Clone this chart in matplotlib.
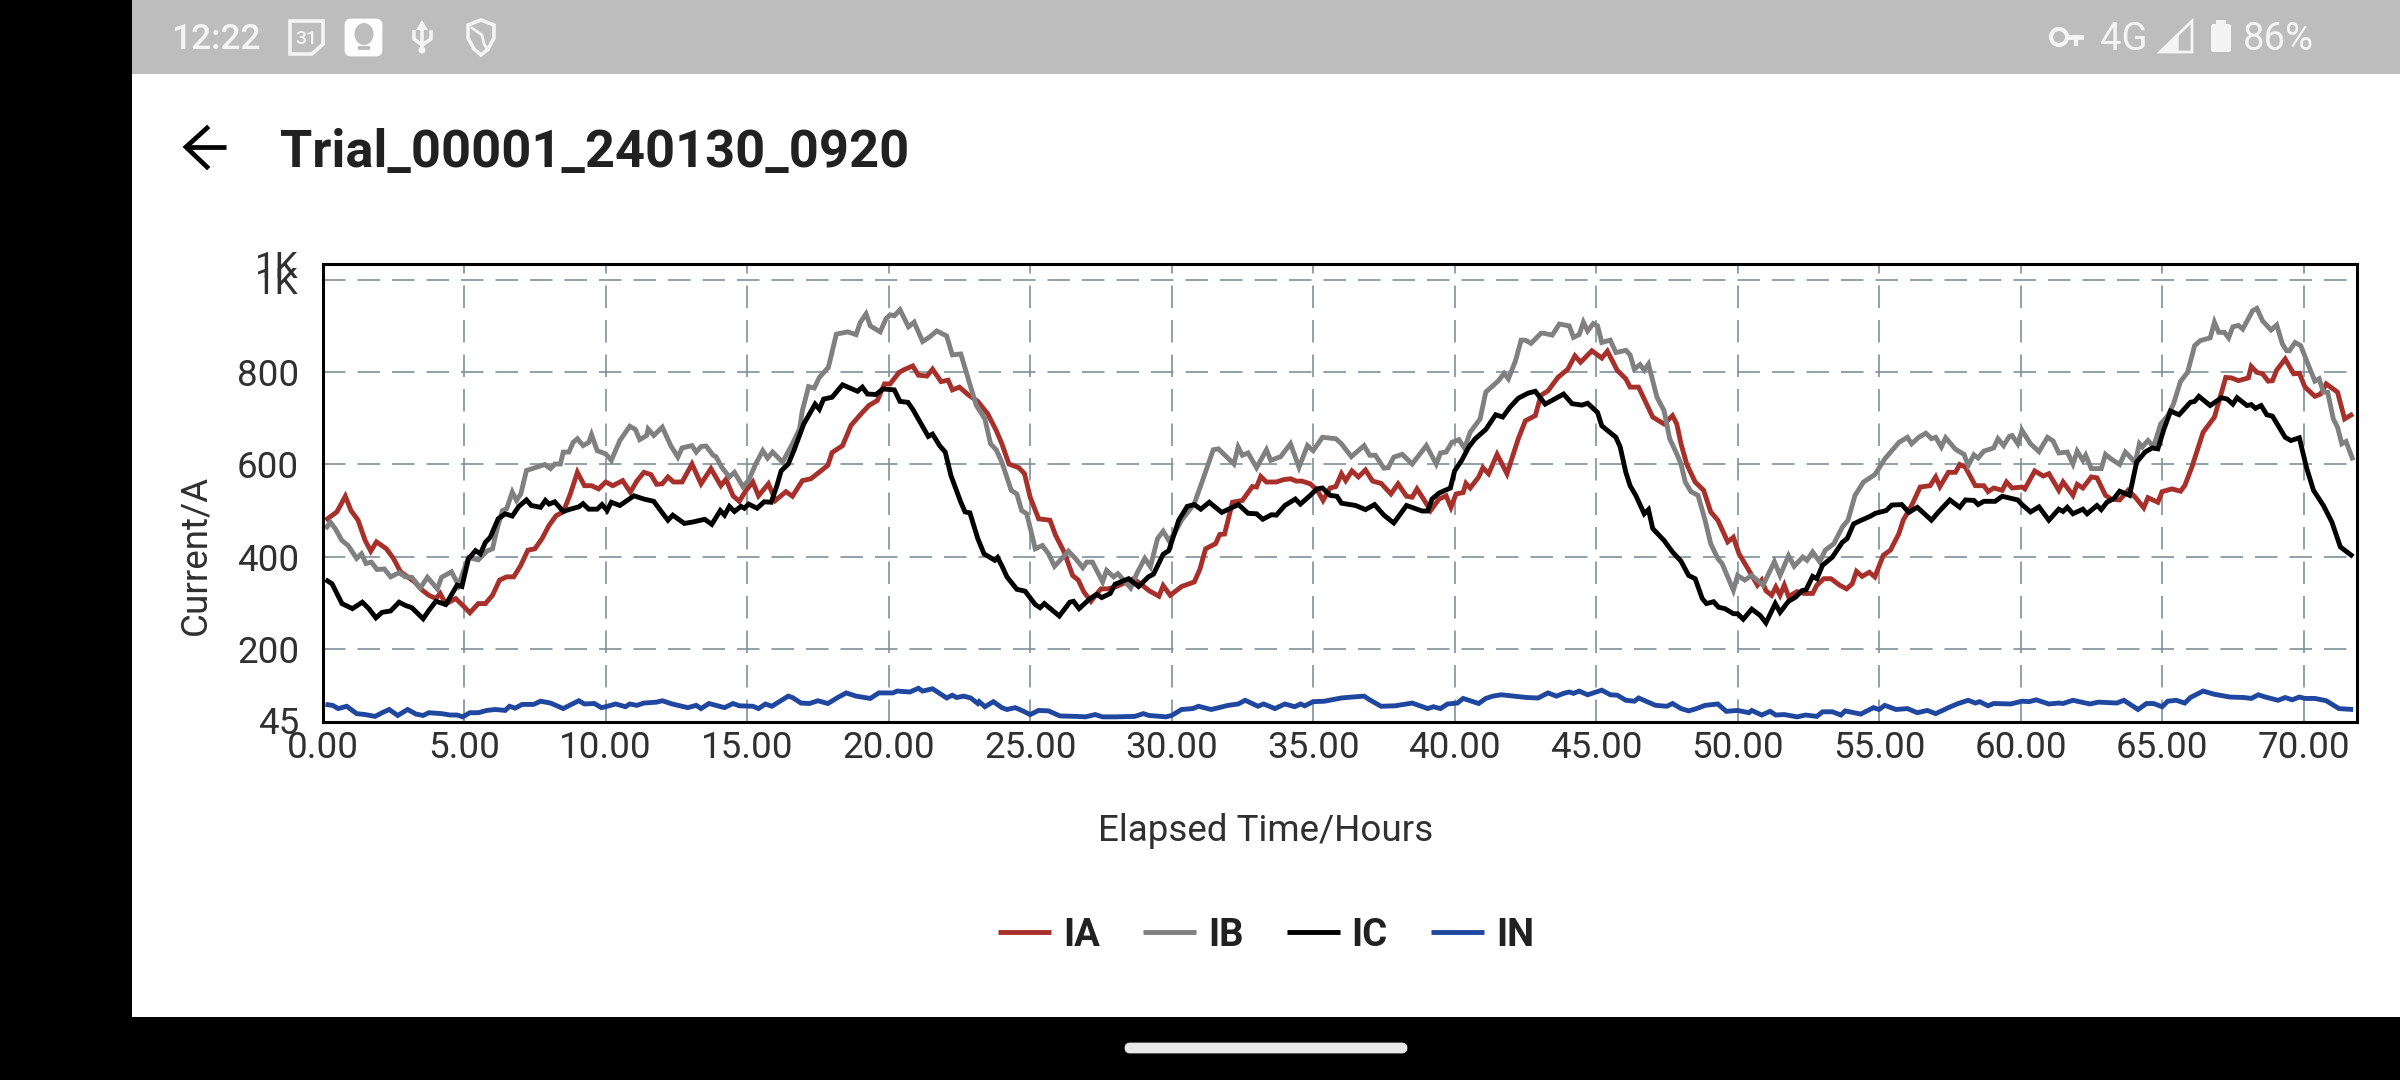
import matplotlib
matplotlib.use("Agg")
import matplotlib.pyplot as plt
from matplotlib.patches import Rectangle, Polygon, FancyBboxPatch, Circle, Ellipse

plt.rcParams['font.family'] = ['Roboto', 'DejaVu Sans']

TITLE = "Trial_00001_240130_0920"
X_LABEL = "Elapsed Time/Hours"
Y_LABEL = "Current/A"
SERIES_NAMES = ["IA", "IB", "IC", "IN"]
X_TICKS = [0, 5, 10, 15, 20, 25, 30, 35, 40, 45, 50, 55, 60, 65, 70]
Y_TICKS = [200, 400, 600, 800, 1000]
Y_EXTRA_TICKS = [45, 1034.7]
Y_TICK_LABELS = ["200", "400", "600", "800", "1K"]
Y_EXTRA_LABELS = ["45", "1K"]

IA_H = [0.1,0.5,0.8,1.0,1.25,1.5,1.7,1.9,2.25,2.5,2.75,3.0,3.25,3.5,3.75,4.0,4.15,4.35,4.7,5.0,5.2,5.5,5.75,6.0,6.25,6.5,6.75,7.0,7.25,7.5,7.75,8.0,8.25,8.5,8.75,9.0,9.25,9.5,9.75,10.0,10.25,10.6,10.87,11.1,11.35,11.6,11.8,12.0,
12.2,12.4,12.7,13.05,13.37,13.72,14.07,14.25,14.5,14.72,14.95,15.2,15.4,15.75,16.0,16.37,16.6,16.95,17.25,17.5,17.85,18.0,18.37,18.67,19.07,19.3,19.6,19.85,20.05,20.37,20.55,20.85,21.05,21.35,21.55,21.85,22.1,22.25,22.5,22.8,23.15,23.5,23.8,
24.0,24.25,24.6,24.8,25.0,25.3,25.7,25.9,26.2,26.5,26.7,26.9,27.15,27.5,27.75,28.05,28.65,28.9,29.2,29.55,29.7,29.95,30.35,30.8,31.0,31.2,31.55,31.7,31.87,32.15,32.5,32.85,33.0,33.15,33.35,33.7,33.95,34.2,34.4,34.6,34.9,35.15,35.35,35.6,35.8,
36.0,36.15,36.37,36.6,36.85,37.1,37.4,37.75,38.0,38.3,38.5,38.67,38.9,39.15,39.45,39.7,39.87,40.05,40.3,40.4,40.55,40.85,41.0,41.2,41.5,41.85,42.25,42.5,42.85,43.05,43.3,43.65,44.0,44.25,44.45,44.85,45.2,45.4,45.75,46.05,46.2,46.5,47.0,47.4,47.7,47.85,
48.0,48.2,48.5,48.8,49.05,49.3,49.65,49.85,50.05,50.4,50.7,50.85,51.0,51.2,51.35,51.5,51.65,51.8,52.1,52.35,52.65,52.8,53.05,53.3,53.6,53.85,54.05,54.2,54.4,54.65,54.85,55.15,55.4,55.7,55.85,56.15,56.45,56.8,57.0,57.15,57.45,57.7,57.85,58.05,58.4,58.7,58.85,59.05,59.35,59.5,59.7,
60.05,60.15,60.5,60.8,61.0,61.35,61.5,61.85,62.0,62.2,62.5,62.7,63.0,63.2,63.5,63.8,64.05,64.35,64.5,64.85,65.0,65.35,65.65,65.8,66.05,66.45,66.85,67.25,67.45,67.7,68.05,68.15,68.35,68.55,68.75,68.9,69.05,69.35,69.65,69.85,70.05,70.4,70.6,70.8,71.2,71.45,71.75]
IA_V = [479,497,531,500,479,435,412,432,417,396,367,356,345,328,316,309,320,297,309,291,278,298,298,316,349,356,356,381,414,417,439,468,489,497,536,583,554,554,547,562,554,565,540,564,583,578,557,558,
573,562,562,601,558,591,554,568,532,520,543,562,532,558,522,541,531,565,569,581,598,626,641,685,713,728,739,775,775,800,806,814,794,792,807,780,783,762,768,752,737,710,674,
645,601,593,580,529,482,479,446,410,359,349,323,303,330,330,335,352,341,326,314,337,316,335,345,373,417,428,448,449,518,522,552,551,574,562,562,567,569,564,564,558,544,522,549,552,
580,565,586,573,588,564,559,536,558,531,529,547,525,500,525,532,507,536,539,559,549,573,593,580,622,580,656,695,706,750,760,789,807,836,822,847,831,846,804,786,768,768,703,688,706,688,
645,601,562,544,497,479,432,442,406,370,338,349,326,316,334,316,338,313,324,320,320,338,352,352,338,330,341,368,357,366,356,403,414,450,479,511,551,554,573,552,583,583,600,594,554,554,541,549,544,562,549,
551,547,586,575,580,544,562,533,557,549,573,571,533,525,523,544,529,506,528,518,541,547,542,554,594,670,703,789,788,782,788,813,800,797,781,782,805,829,797,798,768,748,753,775,757,699,710]

IB_H = [0.1,0.27,0.45,0.68,0.9,1.2,1.37,1.53,1.72,1.92,2.18,2.4,2.7,2.92,3.15,3.45,3.7,4.05,4.2,4.55,4.8,5.0,5.15,5.5,5.8,6.0,6.15,6.35,6.5,6.7,6.85,7.0,7.2,7.5,7.85,8.05,8.2,8.4,8.5,8.7,8.85,9.0,9.2,9.4,9.5,9.7,10.0,10.2,10.5,10.85,11.05,11.2,11.45,11.5,11.7,12.0,
12.3,12.55,12.7,13.05,13.2,13.37,13.55,13.8,13.9,14.1,14.37,14.55,14.85,15.05,15.3,15.55,15.72,15.9,16.25,16.6,16.85,16.95,17.17,17.37,17.55,17.87,18.15,18.55,18.85,19.0,19.2,19.35,19.7,19.9,20.05,20.2,20.4,20.7,20.9,21.2,21.45,21.7,22.05,22.25,22.55,22.9,23.1,23.4,23.6,23.8,
24.0,24.33,24.53,24.7,24.88,25.18,25.43,25.65,25.86,26.06,26.35,26.6,26.86,27.0,27.2,27.56,27.7,27.95,28.1,28.55,28.8,29.05,29.25,29.5,29.7,29.9,30.1,30.35,30.8,31.05,31.47,31.65,32.2,32.35,32.5,32.7,33.0,33.35,33.5,33.85,34.2,34.5,34.8,35.0,35.33,35.8,
36.0,36.35,36.8,37.0,37.2,37.5,37.65,37.85,38.15,38.5,39.0,39.35,39.5,39.7,39.9,40.15,40.35,40.55,40.9,41.1,41.55,41.75,41.9,42.15,42.35,42.5,42.7,43.05,43.15,43.45,43.7,44.05,44.2,44.4,44.55,44.7,44.9,45.05,45.2,45.5,45.7,46.05,46.2,46.35,46.55,46.7,46.85,47.15,47.4,47.6,47.85,
48.0,48.15,48.35,48.6,48.85,49.05,49.3,49.45,49.85,50.0,50.25,50.5,50.9,51.3,51.5,51.8,52.0,52.3,52.45,52.65,52.9,53.1,53.4,53.7,53.9,54.15,54.45,54.85,55.2,55.7,56.0,56.15,56.4,56.65,56.85,57.0,57.2,57.35,57.7,58.0,58.15,58.35,58.5,58.7,59.05,59.2,59.4,59.6,59.7,59.9,
60.05,60.35,60.65,60.95,61.15,61.35,61.65,61.85,62.0,62.2,62.3,62.5,62.85,63.0,63.2,63.5,63.7,64.05,64.2,64.3,64.5,64.7,64.95,65.2,65.4,65.65,65.9,66.15,66.35,66.7,66.85,67.0,67.2,67.35,67.5,67.7,67.85,68.2,68.35,68.55,68.85,69.05,69.25,69.4,69.5,69.7,69.9,70.2,70.4,70.55,70.7,70.85,71.05,71.2,71.35,71.5,71.75]
IB_V = [460,475,460,435,424,396,406,385,388,372,373,356,365,356,355,332,355,330,355,367,338,373,398,393,412,417,457,500,504,540,522,536,587,593,600,591,601,601,627,627,648,656,641,648,665,630,623,609,652,683,676,654,663,677,663,681,
641,616,636,641,627,639,640,620,617,594,573,583,552,565,601,630,614,627,605,645,677,717,769,766,789,811,883,888,882,909,927,901,888,916,925,923,936,899,909,867,877,890,879,838,840,768,728,699,645,632,
605,544,536,500,493,417,424,406,379,392,412,396,376,388,388,345,370,356,363,332,367,396,378,439,455,435,450,479,515,558,632,634,601,638,620,625,593,632,609,617,645,594,641,630,659,656,
645,617,641,620,620,592,593,616,622,601,641,601,625,627,648,654,635,670,699,757,782,798,786,825,870,870,863,885,885,881,905,901,876,882,909,890,906,901,865,870,843,848,838,807,817,805,818,746,717,656,623,
601,562,541,533,479,428,396,385,327,359,349,359,338,389,359,402,379,399,392,410,389,414,428,464,479,533,562,578,612,648,659,645,659,668,656,659,638,658,633,622,598,621,614,629,636,656,641,661,663,645,
674,645,628,659,651,625,627,601,629,609,620,591,591,622,612,600,627,605,645,638,652,639,688,706,731,780,800,858,869,875,909,887,887,875,899,902,894,934,939,912,892,903,862,847,847,865,858,811,781,786,757,757,699,681,645,650,609]

IC_H = [0.1,0.33,0.68,1.05,1.4,1.63,1.88,2.1,2.4,2.7,2.92,3.15,3.55,3.75,4.0,4.35,4.75,4.92,5.15,5.4,5.57,5.75,5.92,6.2,6.45,6.7,6.93,7.2,7.37,7.7,7.87,8.0,8.2,8.5,8.75,9.05,9.2,9.4,9.7,9.87,10.05,10.2,10.5,11.0,11.35,11.7,12.0,
12.2,12.37,12.78,13.07,13.5,13.75,14.05,14.2,14.37,14.55,14.78,14.9,15.05,15.35,15.6,15.85,16.05,16.2,16.45,16.65,17.0,17.4,17.55,17.7,18.0,18.37,18.9,19.07,19.25,19.55,19.8,20.2,20.4,20.68,20.85,21.15,21.4,21.55,21.8,22.0,22.2,22.55,22.7,22.87,23.15,23.37,23.75,23.85,
24.0,24.18,24.53,24.82,25.18,25.35,25.5,26.03,26.4,26.53,26.73,27.12,27.35,27.53,27.83,28.0,28.48,28.83,29.18,29.36,29.7,29.9,30.25,30.55,30.8,31.03,31.33,31.77,32.36,32.7,33.0,33.22,33.53,33.7,34.0,34.37,34.55,34.9,35.13,35.33,35.6,35.84,
36.0,36.5,36.85,37.17,37.5,37.85,38.3,38.85,39.05,39.2,39.45,39.85,40.0,40.25,40.5,40.73,41.1,41.45,41.7,41.95,42.25,42.6,42.85,43.2,43.85,44.15,44.5,44.7,45.05,45.2,45.7,45.85,46.05,46.2,46.4,46.7,46.85,47.0,47.4,47.7,
48.0,48.27,48.5,48.75,48.9,49.15,49.33,49.55,49.85,50.0,50.2,50.5,50.8,51.0,51.33,51.5,51.8,52.05,52.27,52.42,52.65,52.8,53.0,53.35,53.7,53.87,54.1,54.3,54.7,54.87,55.25,55.45,55.8,56.05,56.35,56.85,57.1,57.5,57.85,58.05,58.35,58.5,58.7,59.1,59.35,59.7,59.9,
60.05,60.35,60.65,61.0,61.35,61.5,61.65,61.85,62.2,62.35,62.7,62.85,63.05,63.3,63.5,63.85,64.1,64.4,64.65,64.85,65.05,65.3,65.6,66.0,66.15,66.3,66.7,67.1,67.3,67.5,67.65,68.0,68.15,68.3,68.5,68.7,68.9,69.35,69.55,69.85,70.1,70.35,70.7,71.0,71.3,71.45,71.75]
IC_V = [350,341,298,287,301,287,267,279,282,301,294,289,265,283,303,296,338,335,395,413,406,431,442,482,493,488,509,523,511,507,522,514,519,498,503,508,515,503,503,513,500,518,511,532,525,520,495,
479,490,472,475,481,470,500,490,509,498,509,505,514,505,519,518,554,586,601,630,688,731,720,742,746,773,759,768,753,752,764,762,737,735,720,688,661,666,641,627,576,518,497,495,439,406,392,398,
380,356,329,325,296,289,298,271,301,303,287,309,318,311,320,340,352,335,356,362,405,413,479,509,513,503,518,496,513,494,493,481,491,490,511,525,514,533,547,549,533,531,
516,511,502,513,490,473,511,499,499,525,538,549,586,609,638,656,676,708,703,724,744,755,759,731,753,732,729,733,713,684,659,638,583,554,533,493,502,461,435,410,
390,359,352,309,298,302,290,287,276,276,264,286,272,256,298,279,303,312,326,328,357,352,381,399,431,439,471,477,488,494,500,512,513,496,507,479,497,523,507,523,522,513,520,520,531,526,523,
513,497,508,479,503,498,507,493,503,493,511,502,518,526,542,533,605,627,636,634,674,716,708,735,737,748,728,745,742,731,745,728,730,722,728,708,705,659,652,658,594,544,511,475,421,414,400]

IN_H = [0.1,0.35,0.55,0.85,1.2,1.5,1.85,2.1,2.35,2.65,3.0,3.3,3.55,3.75,4.2,4.5,4.75,4.95,5.2,5.5,5.8,6.1,6.45,6.6,6.8,7.05,7.45,7.7,8.05,8.5,8.85,9.05,9.25,9.6,9.85,10.0,10.35,10.7,10.85,11.1,11.35,11.8,12.0,
12.35,12.9,13.2,13.37,13.65,14.2,14.5,14.72,15.2,15.4,15.65,15.87,16.45,16.6,16.9,17.2,17.5,17.85,18.2,18.5,18.85,19.35,19.65,20.15,20.3,20.75,21.05,21.2,21.55,22.05,22.25,22.4,22.65,22.9,23.15,23.2,23.4,23.7,24.0,
24.18,24.47,24.7,25.0,25.3,25.65,26.05,26.65,26.95,27.3,27.55,28.0,28.7,29.0,29.2,29.8,30.0,30.35,30.75,30.95,31.4,32.0,32.35,32.6,33.05,33.25,33.65,34.0,34.35,34.55,34.7,35.0,35.4,36.0,
36.37,36.8,37.0,37.4,37.9,38.5,39.05,39.25,39.5,39.75,40.1,40.3,40.85,41.1,41.35,41.65,42.55,42.95,43.3,43.6,43.85,44.05,44.2,44.4,44.7,45.2,45.5,45.75,46.05,46.35,46.5,47.1,47.5,47.7,48.0,
48.27,48.55,48.85,49.3,49.6,50.0,50.4,50.5,50.85,51.15,51.35,51.65,52.1,52.4,52.8,53.0,53.35,53.65,53.8,54.35,54.8,55.0,55.2,55.6,56.0,56.35,56.7,57.0,57.45,57.75,58.15,58.4,58.55,58.85,59.05,59.65,60.05,
60.3,60.55,61.0,61.35,61.5,61.85,62.45,62.75,63.4,63.65,64.15,64.45,64.7,65.0,65.2,65.5,65.8,66.0,66.45,66.85,67.4,67.9,68.15,68.4,68.65,69.1,69.35,69.6,69.85,70.05,70.4,70.8,71.25,71.75]
IN_V = [79,77,70,75,59,57,53,61,68,55,68,58,55,61,59,56,56,52,61,61,66,68,66,75,71,79,79,86,82,70,81,87,80,81,72,74,80,74,80,77,82,84,87,
80,72,77,70,81,72,81,76,75,70,80,75,97,94,82,81,87,81,94,104,97,92,104,104,108,106,114,108,113,93,99,94,97,93,81,85,74,85,72,
68,72,66,57,66,65,54,53,52,57,52,52,53,59,55,52,55,68,70,75,68,77,80,88,75,80,70,80,74,80,76,85,86,93,
95,97,89,75,76,82,70,74,70,80,82,92,81,92,97,100,94,93,104,97,103,106,103,108,100,110,100,99,88,86,93,77,75,81,70,
65,70,77,80,64,66,61,66,56,64,56,57,52,56,53,63,63,56,65,58,72,68,77,68,70,61,66,59,72,80,88,82,85,76,81,80,86,
85,89,80,82,81,88,80,84,82,88,68,81,81,74,86,88,82,94,108,101,95,94,92,100,95,88,94,89,95,92,92,87,70,68]

COLORS = ["#a8302a", "#808080", "#000000", "#20479f"]

fig = plt.figure(figsize=(24, 10.8), dpi=100, facecolor="black")

# Phone screen chrome, in screenshot pixels
bg = fig.add_axes([0, 0, 1, 1], zorder=0)
bg.set_xlim(0, 2400)
bg.set_ylim(1080, 0)
bg.axis("off")
bg.add_patch(Rectangle((132, 74), 2268, 943, fc="white", ec="none"))
bg.add_patch(Rectangle((132, 0), 2268, 74, fc="#bdbdbd", ec="none"))
bg.add_patch(FancyBboxPatch((1126, 1044), 280, 8, boxstyle="round,pad=0,rounding_size=4",
                            fc="#e8e8e8", ec="#e8e8e8", lw=2))
WHITE = "#f4f4f4"
bg.text(171, 36, "12:22", color=WHITE, fontsize=25.5, fontweight="medium", va="center_baseline", ha="left")
# calendar icon
bg.add_patch(Polygon([(290, 21), (323, 21), (323, 44), (312, 54), (290, 54)], closed=True,
                     fc="none", ec=WHITE, lw=2.6))
bg.text(306, 37, "31", color=WHITE, fontsize=14, fontweight="medium", ha="center", va="center_baseline")
# keep-notes icon
bg.add_patch(FancyBboxPatch((346, 20), 35, 35, boxstyle="round,pad=0,rounding_size=5", fc="white", ec="white", lw=2))
bg.add_patch(Ellipse((364, 34), 19, 22, fc="#bdbdbd", ec="none"))
bg.add_patch(Rectangle((358, 46), 12, 4, fc="#bdbdbd", ec="none"))
# usb icon
bg.plot([422, 422], [24, 50], color=WHITE, lw=2.6)
bg.add_patch(Polygon([(416, 30), (428, 30), (422, 20)], closed=True, fc=WHITE, ec="none"))
bg.plot([414, 414, 422], [32, 39, 45], color=WHITE, lw=2.6)
bg.plot([431, 431, 422], [32, 39, 45], color=WHITE, lw=2.6)
bg.add_patch(Circle((422, 50), 3.5, fc=WHITE, ec="none"))
# shield icon
bg.add_patch(Polygon([(481, 20), (494, 25), (494, 38), (488, 49), (481, 55), (474, 49), (468, 38), (468, 25)],
                     closed=True, fc="none", ec=WHITE, lw=2.6))
bg.plot([472, 482, 484, 488], [28, 35, 44, 50], color=WHITE, lw=2)
# right side of status bar
bg.add_patch(Circle((2059, 37), 8, fc="none", ec=WHITE, lw=3))
bg.plot([2068, 2081], [37, 37], color=WHITE, lw=3.5)
bg.plot([2076, 2076], [37, 44], color=WHITE, lw=3)
bg.text(2100, 36, "4G", color=WHITE, fontsize=27.5, va="center_baseline", ha="left")
bg.add_patch(Polygon([(2160, 52), (2192, 21), (2192, 52)], closed=True, fc="none", ec=WHITE, lw=2))
bg.add_patch(Polygon([(2160, 52), (2178, 35), (2178, 52)], closed=True, fc=WHITE, ec=WHITE, lw=1))
bg.add_patch(FancyBboxPatch((2211, 24), 20, 28, boxstyle="round,pad=0,rounding_size=2", fc=WHITE, ec="none"))
bg.add_patch(Rectangle((2216, 20), 10, 5, fc=WHITE, ec="none"))
bg.text(2243, 36, "86%", color=WHITE, fontsize=27.5, va="center_baseline", ha="left")
# back arrow
bg.plot([226, 188], [147, 147], color="black", lw=3.4, solid_capstyle="butt")
bg.plot([207, 186, 207], [128, 147, 167], color="black", lw=3.4, solid_joinstyle="miter")
bg.text(280, 167, TITLE, color="#212121", fontsize=37.7, fontweight="bold", va="baseline", ha="left")

# Chart
L, R, T, B = 322.7, 2356.5, 264.3, 721.7
ax = fig.add_axes([L / 2400, 1 - B / 1080, (R - L) / 2400, (B - T) / 1080], zorder=1)
ax.set_xlim(0, 71.87)
ax.set_ylim(41.5, 1034.7)
for s in ax.spines.values():
    s.set_linewidth(2.2)
    s.set_color("black")
ax.set_xticks(X_TICKS)
ax.set_xticklabels([f"{v:.2f}" for v in X_TICKS])
ax.set_yticks(Y_TICKS)
ax.set_yticklabels(Y_TICK_LABELS)
ax.set_yticks(Y_EXTRA_TICKS, minor=True)
ax.set_yticklabels(Y_EXTRA_LABELS, minor=True)
ax.tick_params(axis="both", which="both", length=0, labelsize=26.5, labelcolor="#303030")
ax.tick_params(axis="y", which="both", pad=17)
ax.tick_params(axis="x", pad=6)
ax.grid(True, which="major", color="#7f9099", lw=1.2, linestyle=(0, (13.5, 7.2)))
ax.set_axisbelow(True)

lines = []
for name, h, v, c in zip(SERIES_NAMES, [IA_H, IB_H, IC_H, IN_H], [IA_V, IB_V, IC_V, IN_V], COLORS):
    ln, = ax.plot(h, v, color=c, lw=3.5, label=name, solid_joinstyle="miter", solid_capstyle="butt")
    lines.append(ln)

fig.text(1266 / 2400, 1 - 831 / 1080, X_LABEL, fontsize=26.5, color="#303030", ha="center", va="center")
fig.text(195 / 2400, 1 - 555 / 1080, Y_LABEL, fontsize=26.5, color="#303030", rotation=90, ha="center", va="center")

fig.legend(handles=lines, loc="center", bbox_to_anchor=(1266 / 2400, 1 - 935 / 1080), ncol=4, frameon=False,
           prop={"size": 27.5, "weight": "bold"}, labelcolor="#212121",
           handlelength=1.39, handletextpad=0.31, columnspacing=1.13, borderpad=0, borderaxespad=0)

fig.savefig("out.png", dpi=100, facecolor="black")
